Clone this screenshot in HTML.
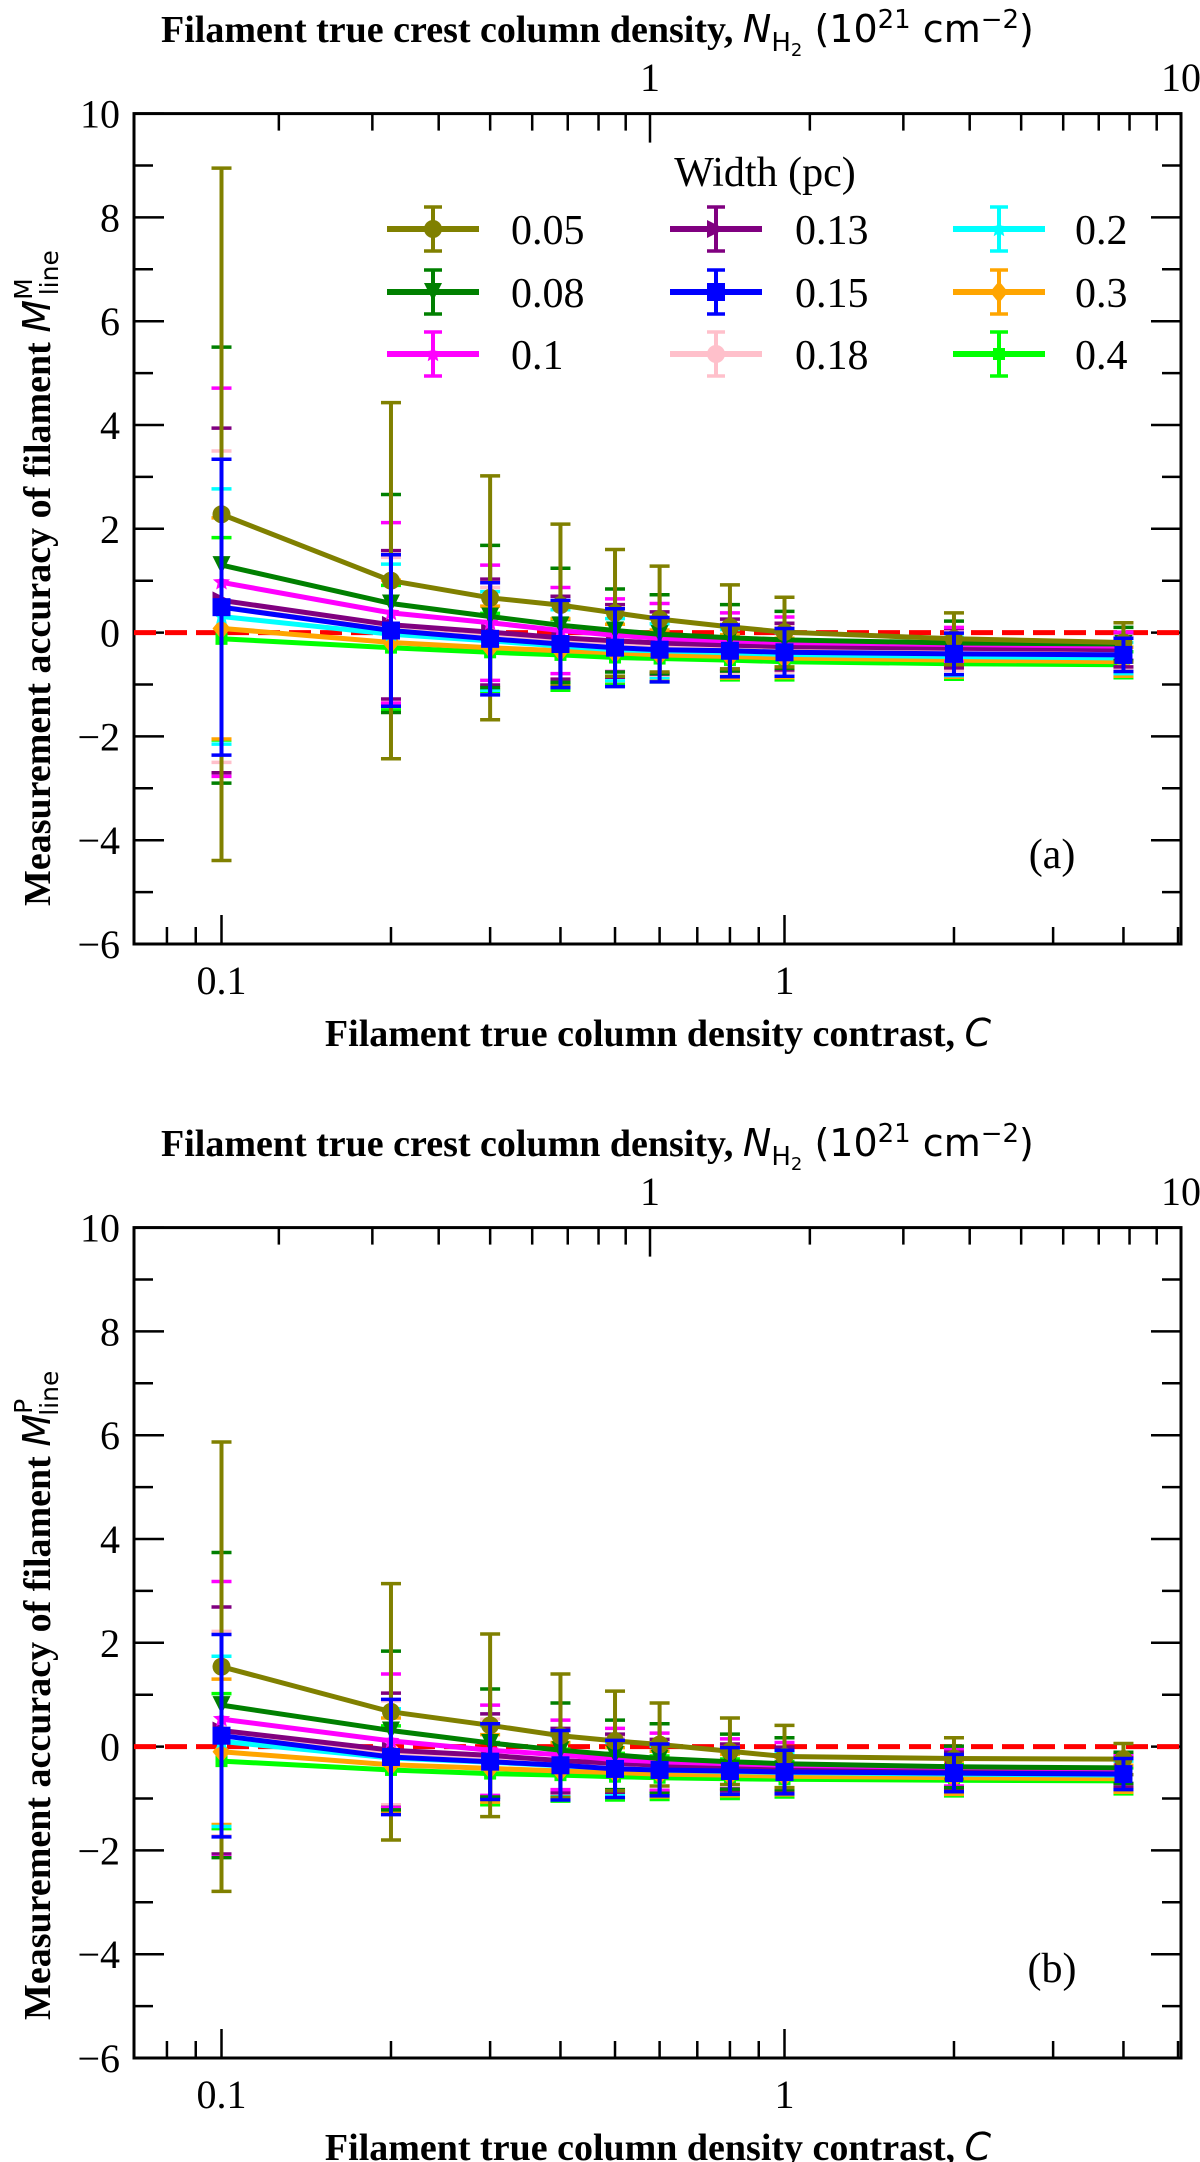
<!DOCTYPE html>
<html>
<head>
<meta charset="utf-8">
<style>
html,body{margin:0;padding:0;background:#fff;}
svg{display:block;}
.tk{font-family:"Liberation Serif","Times New Roman",serif;font-size:40px;fill:#000;}
.ttl{font-family:"Liberation Serif","Times New Roman",serif;font-weight:bold;font-size:38px;fill:#000;}
.sans{font-family:"DejaVu Sans","Liberation Sans",sans-serif;font-weight:normal;}
.leg{font-family:"Liberation Serif","Times New Roman",serif;font-size:42px;fill:#000;}
</style>
</head>
<body>
<svg id="chart" width="1200" height="2162" viewBox="0 0 1200 2162" xmlns="http://www.w3.org/2000/svg"></svg>
<script>
// ---- data ----
const xValues = [0.1, 0.2, 0.3, 0.4, 0.5, 0.6, 0.8, 1, 2, 4];
const widths = ["0.05","0.08","0.1","0.13","0.15","0.18","0.2","0.3","0.4"];
const colors = ["#808000","#008000","#ff00ff","#800080","#0000ff","#ffc0cb","#00ffff","#ffa500","#00ff00"];
const markers = ["circle","tri-down","star","tri-right","square","hex","star","diamond","plus"];
const yTicks = [-6,-4,-2,0,2,4,6,8,10];
const xTickLabels = ["0.1","1"];
const topTickLabels = ["1","10"];

// panel (a) values
const a_005 = [2.28,1.0,0.67,0.53,0.38,0.26,0.11,0.01,-0.12,-0.19];
const a_008 = [1.3,0.56,0.31,0.14,0.04,-0.03,-0.1,-0.14,-0.2,-0.22];
const a_010 = [0.97,0.38,0.19,0.04,-0.05,-0.11,-0.16,-0.19,-0.23,-0.26];
const a_013 = [0.62,0.15,0.01,-0.1,-0.16,-0.2,-0.24,-0.27,-0.3,-0.33];
const a_015 = [0.49,0.04,-0.12,-0.22,-0.29,-0.33,-0.35,-0.38,-0.41,-0.43];
const a_018 = [0.5,0.05,-0.08,-0.17,-0.23,-0.27,-0.3,-0.32,-0.35,-0.37];
const a_020 = [0.31,-0.03,-0.16,-0.26,-0.33,-0.35,-0.39,-0.42,-0.46,-0.49];
const a_030 = [0.08,-0.19,-0.29,-0.35,-0.39,-0.43,-0.46,-0.49,-0.53,-0.56];
const a_040 = [-0.12,-0.29,-0.38,-0.43,-0.48,-0.5,-0.53,-0.56,-0.6,-0.62];
// panel (a) errors
const ae_005 = [6.67,3.43,2.35,1.56,1.22,1.02,0.81,0.67,0.5,0.38];
const ae_008 = [4.2,2.1,1.37,1.1,0.8,0.76,0.64,0.55,0.42,0.32];
const ae_010 = [3.74,1.74,1.11,0.83,0.7,0.67,0.54,0.49,0.33,0.27];
const ae_013 = [3.32,1.43,1.02,0.8,0.7,0.6,0.5,0.45,0.38,0.33];
const ae_015 = [2.85,1.46,1.08,0.84,0.75,0.62,0.5,0.46,0.4,0.32];
const ae_018 = [3.0,1.4,0.95,0.72,0.62,0.55,0.48,0.44,0.38,0.32];
const ae_020 = [2.46,1.35,0.95,0.7,0.6,0.52,0.45,0.42,0.37,0.3];
const ae_030 = [2.13,1.2,0.8,0.62,0.55,0.48,0.42,0.38,0.33,0.28];
const ae_040 = [1.95,1.2,0.75,0.68,0.5,0.45,0.38,0.35,0.3,0.25];

// panel (b) values
const b_005 = [1.54,0.67,0.41,0.21,0.11,0.04,-0.09,-0.19,-0.23,-0.24];
const b_008 = [0.8,0.31,0.07,-0.07,-0.16,-0.23,-0.29,-0.33,-0.39,-0.41];
const b_010 = [0.53,0.11,-0.07,-0.16,-0.25,-0.29,-0.33,-0.36,-0.4,-0.43];
const b_013 = [0.31,-0.07,-0.17,-0.27,-0.32,-0.36,-0.4,-0.43,-0.45,-0.48];
const b_015 = [0.21,-0.2,-0.29,-0.36,-0.43,-0.45,-0.47,-0.49,-0.51,-0.53];
const b_018 = [0.25,-0.12,-0.22,-0.3,-0.35,-0.38,-0.41,-0.44,-0.47,-0.49];
const b_020 = [0.1,-0.22,-0.3,-0.37,-0.42,-0.45,-0.48,-0.5,-0.53,-0.55];
const b_030 = [-0.1,-0.35,-0.42,-0.47,-0.5,-0.53,-0.55,-0.57,-0.6,-0.62];
const b_040 = [-0.28,-0.45,-0.52,-0.55,-0.58,-0.6,-0.62,-0.63,-0.65,-0.66];
// panel (b) errors
const be_005 = [4.33,2.47,1.76,1.19,0.96,0.8,0.64,0.6,0.4,0.3];
const be_008 = [2.94,1.53,1.04,0.91,0.67,0.67,0.53,0.5,0.4,0.3];
const be_010 = [2.65,1.29,0.87,0.67,0.6,0.55,0.48,0.44,0.36,0.28];
const be_013 = [2.38,1.1,0.8,0.62,0.56,0.5,0.45,0.42,0.36,0.3];
const be_015 = [1.95,1.11,0.73,0.67,0.55,0.5,0.45,0.42,0.36,0.3];
const be_018 = [1.97,1.0,0.75,0.6,0.52,0.48,0.43,0.4,0.35,0.28];
const be_020 = [1.64,0.95,0.7,0.58,0.5,0.46,0.42,0.38,0.33,0.27];
const be_030 = [1.4,0.9,0.65,0.55,0.48,0.44,0.4,0.36,0.32,0.26];
const be_040 = [1.3,0.85,0.6,0.5,0.45,0.42,0.38,0.34,0.3,0.25];

const panelA = {label:"(a)", sup:"M", vals:[a_005,a_008,a_010,a_013,a_015,a_018,a_020,a_030,a_040], errs:[ae_005,ae_008,ae_010,ae_013,ae_015,ae_018,ae_020,ae_030,ae_040], legend:true};
const panelB = {label:"(b)", sup:"P", vals:[b_005,b_008,b_010,b_013,b_015,b_018,b_020,b_030,b_040], errs:[be_005,be_008,be_010,be_013,be_015,be_018,be_020,be_030,be_040], legend:false};

// draw order: blue (0.15) on top
const drawOrder = [8,7,6,5,3,2,1,0,4];

// ---- drawing ----
const NS = "http://www.w3.org/2000/svg";
const SERIF = '"Liberation Serif","Times New Roman",serif';
const svg = document.getElementById("chart");
const L = 134, R = 1181, T = 113.6, B = 944;
const X0 = 221.5, DEC = 563;
const TX1 = 650, TDEC = 531;
function xs(v){ return X0 + (Math.log10(v) + 1) * DEC; }
function txs(v){ return TX1 + Math.log10(v) * TDEC; }
function ys(v){ return T + (10 - v) * (B - T) / 16; }
function mk(tag, attrs, parent){
  const e = document.createElementNS(NS, tag);
  for (const k in attrs) e.setAttribute(k, attrs[k]);
  parent.appendChild(e);
  return e;
}
function marker(g, type, cx, cy, color){
  const s = 9;
  let e;
  if (type === "circle" || type === "hex") e = mk("circle", {cx:cx, cy:cy, r:s}, g);
  else if (type === "square") e = mk("rect", {x:cx-s, y:cy-s, width:2*s, height:2*s}, g);
  else if (type === "diamond") e = mk("polygon", {points:`${cx},${cy-s-2} ${cx+s},${cy} ${cx},${cy+s+2} ${cx-s},${cy}`}, g);
  else if (type === "tri-down") e = mk("polygon", {points:`${cx-s},${cy-s} ${cx+s},${cy-s} ${cx},${cy+s}`}, g);
  else if (type === "tri-right") e = mk("polygon", {points:`${cx-s},${cy-s} ${cx+s},${cy} ${cx-s},${cy+s}`}, g);
  else if (type === "star"){
    let p = [];
    for (let i = 0; i < 10; i++){ const r = i % 2 ? s*0.45 : s; const a = -Math.PI/2 + i*Math.PI/5; p.push((cx + r*Math.cos(a)).toFixed(1) + "," + (cy + r*Math.sin(a)).toFixed(1)); }
    e = mk("polygon", {points:p.join(" ")}, g);
  } else e = mk("rect", {x:cx-6, y:cy-6, width:12, height:12}, g);
  e.setAttribute("fill", color);
  
  
}

function drawPanel(P, off){
  const g = mk("g", {transform:`translate(0,${off})`}, svg);
  
  

  const tt = mk("text", {x:161, y:42, class:"ttl", "font-family":SERIF, "font-weight":"bold", "font-size":38}, g);
  
  
  tt.innerHTML = 'Filament true crest column density, <tspan class="sans" font-style="italic">N</tspan><tspan class="sans" font-size="26" dy="9">H</tspan><tspan class="sans" font-size="18" dy="5">2</tspan><tspan class="sans" dy="-14"> (10</tspan><tspan class="sans" font-size="26" dy="-14">21</tspan><tspan class="sans" dy="14"> cm</tspan><tspan class="sans" font-size="26" dy="-14">−2</tspan><tspan class="sans" dy="14">)</tspan>';

  const bt = mk("text", {x:658, y:1046, class:"ttl", "text-anchor":"middle", "font-family":SERIF, "font-weight":"bold", "font-size":38}, g);
  
  
  bt.innerHTML = 'Filament true column density contrast, <tspan class="sans" font-style="italic">C</tspan>';

  const yt = mk("text", {x:0, y:0, class:"ttl", transform:"translate(50,906) rotate(-90)", "font-family":SERIF, "font-weight":"bold", "font-size":38}, g);
  
  
  yt.innerHTML = 'Measurement accuracy of filament <tspan class="sans" font-style="italic">M</tspan><tspan class="sans" font-size="25" dy="-18">' + P.sup + '</tspan><tspan class="sans" font-size="25" dx="-17" dy="26">line</tspan>';

  const fr = mk("rect", {x:L, y:T, width:R-L, height:B-T, fill:"none", stroke:"#000", "stroke-width":3}, g);
  
  

  for (let v = -6; v <= 10; v++){
    const y = ys(v);
    const len = (v % 2 === 0) ? 30 : 19;
    mk("line", {x1:L, x2:L+len, y1:y, y2:y, stroke:"#000", "stroke-width":2.5}, g);
    mk("line", {x1:R, x2:R-len, y1:y, y2:y, stroke:"#000", "stroke-width":2.5}, g);
  }
  yTicks.forEach(v => {
    const t = mk("text", {x:L-14, y:ys(v)+14, class:"tk", "text-anchor":"end", "font-family":SERIF, "font-size":40}, g);
    
    
    t.textContent = v < 0 ? "−" + Math.abs(v) : String(v);
  });
  const bt_vals = [0.08,0.09,0.1,0.2,0.3,0.4,0.5,0.6,0.7,0.8,0.9,1,2,3,4,5];
  bt_vals.forEach(v => {
    const x = xs(v); if (x < L || x > R) return;
    const major = (v === 0.1 || v === 1);
    mk("line", {x1:x, x2:x, y1:B, y2:B-(major?29:17), stroke:"#000", "stroke-width":2.5}, g);
  });
  [0.1, 1].forEach((v, i) => {
    const t = mk("text", {x:xs(v), y:994, class:"tk", "text-anchor":"middle", "font-family":SERIF, "font-size":40}, g);
    
    
    t.textContent = xTickLabels[i];
  });
  const tt_vals = [0.2,0.3,0.4,0.5,0.6,0.7,0.8,0.9,1,2,3,4,5,6,7,8,9];
  tt_vals.forEach(v => {
    const x = txs(v); if (x < L || x > R) return;
    mk("line", {x1:x, x2:x, y1:T, y2:T+(v===1?29:17), stroke:"#000", "stroke-width":2.5}, g);
  });
  [1, 10].forEach((v, i) => {
    const t = mk("text", {x:txs(v), y:91, class:"tk", "text-anchor":"middle", "font-family":SERIF, "font-size":40}, g);
    
    
    t.textContent = topTickLabels[i];
  });

  const zl = mk("line", {x1:L, x2:R, y1:ys(0), y2:ys(0), stroke:"#ff0000", "stroke-width":5, "stroke-dasharray":"22 9"}, g);
  
  

  drawOrder.forEach(si => {
    const vals = P.vals[si];
    const sg = mk("g", {}, g);
    
    
    const col = colors[si];
    vals.forEach((v, i) => {
      const x = xs(xValues[i]), e = P.errs[si][i];
      const y1 = ys(v + e), y2 = ys(v - e);
      mk("line", {x1:x, x2:x, y1:y1, y2:y2, stroke:col, "stroke-width":4}, sg);
      mk("line", {x1:x-10, x2:x+10, y1:y1, y2:y1, stroke:col, "stroke-width":3.5}, sg);
      mk("line", {x1:x-10, x2:x+10, y1:y2, y2:y2, stroke:col, "stroke-width":3.5}, sg);
    });
    const pts = vals.map((v, i) => xs(xValues[i]).toFixed(1) + "," + ys(v).toFixed(1)).join(" ");
    const pl = mk("polyline", {points:pts, fill:"none", stroke:col, "stroke-width":5, "stroke-linejoin":"round"}, sg);
    
    
    vals.forEach((v, i) => marker(sg, markers[si], xs(xValues[i]), ys(v), col));
  });

  const pl = mk("text", {x:1052, y:868, class:"leg", "text-anchor":"middle", "font-family":SERIF, "font-size":42}, g);
  
  
  pl.textContent = P.label;

  if (P.legend){
    const lg = mk("g", {}, g);
    
    
    const lt = mk("text", {x:765, y:186, class:"leg", "text-anchor":"middle", "font-family":SERIF, "font-size":42}, lg);
    
    
    lt.textContent = "Width (pc)";
    const colX = [387, 670, 953], rowY = [229, 292, 354], txtX = [511, 795, 1075];
    widths.forEach((w, i) => {
      const c = Math.floor(i / 3), r = i % 3;
      const eg = mk("g", {}, lg);
      
      
      const x0 = colX[c], y = rowY[r], cx = x0 + 46;
      mk("line", {x1:x0, x2:x0+92, y1:y, y2:y, stroke:colors[i], "stroke-width":6}, eg);
      mk("line", {x1:cx, x2:cx, y1:y-22, y2:y+22, stroke:colors[i], "stroke-width":4}, eg);
      mk("line", {x1:cx-9, x2:cx+9, y1:y-22, y2:y-22, stroke:colors[i], "stroke-width":3.5}, eg);
      mk("line", {x1:cx-9, x2:cx+9, y1:y+22, y2:y+22, stroke:colors[i], "stroke-width":3.5}, eg);
      marker(eg, markers[i], cx, y, colors[i]);
      const t = mk("text", {x:txtX[c], y:y+15, class:"leg", "font-family":SERIF, "font-size":42}, eg);
      
      
      t.textContent = w;
    });
  }
}
drawPanel(panelA, 0);
drawPanel(panelB, 1114);
</script>
</body>
</html>
